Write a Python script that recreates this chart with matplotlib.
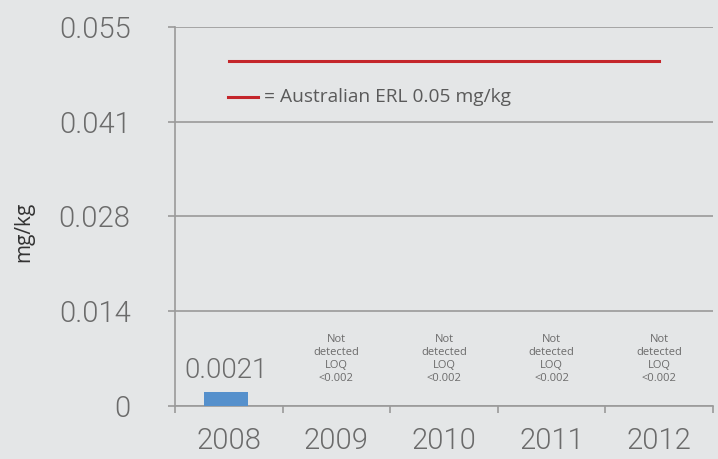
import matplotlib
matplotlib.use("Agg")
import matplotlib.pyplot as plt
import numpy as np

years = ["2008", "2009", "2010", "2011", "2012"]
values = [0.0021, None, None, None, None]
erl = [0.05, 0.05, 0.05, 0.05, 0.05]
ytick_vals = [0, 0.01375, 0.0275, 0.04125, 0.055]
ytick_labels = ["0", "0.014", "0.028", "0.041", "0.055"]
bar_label = "0.0021"
nd_label = "Not\ndetected\nLOQ\n<0.002"
legend_label = "= Australian ERL 0.05 mg/kg"

bg = "#e4e6e7"
txt = "#6b6b6b"
grid = "#9a9a9a"
red = "#c4262b"
blue = "#5590cc"

light = dict(family=["Roboto", "DejaVu Sans"], fontweight=300)
plt.rcParams['font.family'] = ["Open Sans", "DejaVu Sans"]

fig = plt.figure(figsize=(7.18, 4.59), dpi=100, facecolor=bg)
ax = fig.add_axes([175/718, 1-406/459, 538/718, 379/459])
ax.set_facecolor(bg)

x = np.arange(len(years))
for i, v in enumerate(values):
    if v is not None:
        ax.bar(x[i] - 0.03, v, width=0.41, color=blue, zorder=3)
        ax.text(x[i] - 0.03, v + 0.0011, bar_label, ha="center", va="bottom",
                fontsize=20, color=txt, **light)
    else:
        ax.text(x[i], 0.0032, nd_label, ha="center", va="bottom", fontsize=8,
                color=txt, linespacing=1.25)

ax.plot(x, erl, color=red, lw=2.2, zorder=4)

ax.set_xlim(-0.5, 4.5)
ax.set_ylim(0, 0.055)
ax.set_yticks(ytick_vals)
ax.set_yticklabels(ytick_labels, fontsize=21, color=txt, **light)
ax.yaxis.grid(True, color=grid, lw=1.2)
ax.set_axisbelow(True)

ax.set_xticks(x)
ax.set_xticklabels(years, fontsize=21, color=txt, **light)
ax.tick_params(axis="x", length=0, pad=15)
ax.set_xticks(np.arange(-0.5, 5, 1), minor=True)
ax.tick_params(axis="x", which="minor", length=5, color=grid, width=1.2)
ax.tick_params(axis="y", length=5, color=grid, width=1.2, pad=27)

for s in ["top", "right"]:
    ax.spines[s].set_visible(False)
for s in ["left", "bottom"]:
    ax.spines[s].set_color(grid)
    ax.spines[s].set_linewidth(1.2)

ax.set_ylabel("mg/kg", fontsize=15, color="#333333")
ax.yaxis.set_label_coords(-0.262, 0.46)

# legend-like annotation
ax.plot([x[0] - 0.01, x[0] + 0.27], [0.0448, 0.0448], color=red, lw=2.2)
ax.text(x[0] + 0.33, 0.0448, legend_label, ha="left", va="center",
        fontsize=13.8, color="#5a5a5a")

fig.savefig("out.png", dpi=100, facecolor=bg)
